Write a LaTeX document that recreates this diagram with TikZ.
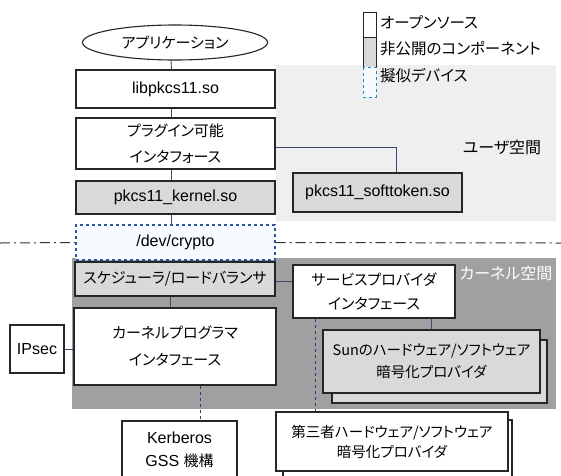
\documentclass[tikz,border=0pt]{standalone}
\usepackage{fontspec}
\usetikzlibrary{shapes.geometric}
\setmainfont{Liberation Sans}
\newfontfamily\jp[RawFeature=+palt]{Noto Sans CJK JP}
\definecolor{userbg}{HTML}{EFEFEF}
\definecolor{kernbg}{HTML}{A0A0A0}
\definecolor{boxgrey}{HTML}{D9D9D9}
\definecolor{conn}{HTML}{3A4A70}
\definecolor{dashblue}{HTML}{2A55A0}
\definecolor{pseudo}{HTML}{F7FAFF}
\begin{document}
\begin{tikzpicture}[x=1pt,y=-1pt,
  box/.style={draw=black!85, line width=1.1pt, fill=white, inner sep=0pt, align=center},
  greybox/.style={box, fill=boxgrey},
  pseudobox/.style={box, draw=dashblue, dashed, fill=pseudo},
  lat/.style={font=\fontsize{16}{18}\selectfont},
  jpt/.style={font=\jp\fontsize{15}{#1}\selectfont},
  jpt/.default=24,
  jps/.style={font=\jp\fontsize{14.5}{#1}\selectfont},
  wire/.style={draw=conn, line width=0.9pt},
  dwire/.style={draw=conn!80!blue, line width=0.9pt, dashed},
  lgd/.style={anchor=west, inner sep=0pt, font=\jp\fontsize{15.5}{17}\selectfont}
]
\useasboundingbox (0,0) rectangle (561,475);
\clip (0,0) rectangle (561,475);
\fill[white] (0,0) rectangle (561,475);

% regions
\fill[userbg] (276,65) rectangle (556,221);
\fill[kernbg] (72,258) rectangle (556,409);

% legend
\draw[black!85, line width=0.9pt, fill=white] (363,12) rectangle (376,37);
\draw[black!85, line width=0.9pt, fill=boxgrey] (363,37) rectangle (376,67);
\draw[dashblue!70!cyan, line width=0.9pt, dashed, fill=pseudo] (363,67) rectangle (376,97);
\node[lgd] (lg1) at (380,22) {オープンソース};
\node[lgd] (lg2) at (380,49) {非公開のコンポーネント};
\node[lgd] (lg3) at (380,76) {擬似デバイス};

\node[font=\jp\fontsize{16}{18}\selectfont] (usr) at (502,147) {ユーザ空間};
\node[font=\jp\fontsize{16}{18}\selectfont, text=white] (krn) at (506,273) {カーネル空間};

% user-space column
\node[draw=black!85, line width=1.1pt, fill=white, ellipse, minimum width=185pt, minimum height=35pt, inner sep=0pt, jpt] (app) at (175,42.5) {アプリケーション};
\node[box, lat, minimum width=199pt, minimum height=38pt] (lib) at (175.5,89) {libpkcs11.so};
\node[box, jpt=26, minimum width=199pt, minimum height=51pt] (plug) at (175.5,143.5) {プラグイン可能\\インタフォース};
\node[greybox, lat, minimum width=199pt, minimum height=33pt] (kso) at (175.5,197.5) {pkcs11\_kernel.so};
\node[greybox, lat, minimum width=169pt, minimum height=39pt] (soft) at (377.5,192.5) {pkcs11\_softtoken.so};
\node[pseudobox, lat, minimum width=199pt, minimum height=35pt] (dev) at (175.5,242.5) {/dev/crypto};

% dash-dot separator
\coordinate (sepL) at (0,243);
\coordinate (sepR) at (561,243);
\draw[black!80, line width=1pt, dash pattern=on 10pt off 4pt on 2pt off 4pt] (sepL) -- (dev.west);
\draw[black!80, line width=1pt, dash pattern=on 10pt off 4pt on 2pt off 4pt] (dev.east) -- (sepR);

% kernel side
\node[greybox, jpt, minimum width=200pt, minimum height=34pt] (sch) at (175,279) {スケジューラ/ロードバランサ};
\node[box, jpt=27, minimum width=202pt, minimum height=77pt] (kapi) at (175,346.5) {カーネルプログラマ\\インタフェース};
\node[box, lat, minimum width=54pt, minimum height=48pt] (ipsec) at (37,349) {IPsec};
\node[box, minimum width=115pt, minimum height=61pt] (kerb) at (179.5,451.5) {};
\node[inner sep=0pt, lat] (kerbt1) at (179.5,438) {Kerberos};
\node[inner sep=0pt, lat] (kerbt2) at (179.5,461) {GSS {\jp\fontsize{15}{17}\selectfont 機構}};
\node[box, jpt, minimum width=162pt, minimum height=53pt] (spi) at (374,291.5) {サービスプロバイダ\\インタフェース};
\node[greybox, minimum width=215pt, minimum height=63pt] (sunb) at (439.5,371.5) {};
\node[greybox, jps=22, minimum width=217pt, minimum height=63pt] (sunf) at (431.5,361.5) {Sunのハードウェア/ソフトウェア\\暗号化プロバイダ};
\node[box, minimum width=229pt, minimum height=60pt] (tpb) at (397.5,450) {};
\node[box, jps=20, minimum width=232pt, minimum height=59pt] (tpf) at (392,441.5) {第三者ハードウェア/ソフトウェア\\暗号化プロバイダ};

% connectors
\draw[wire] ([xshift=-4pt]app.south) -- ([xshift=-4pt]lib.north);
\draw[wire] ([xshift=-4pt]lib.south) -- ([xshift=-4pt]plug.north);
\draw[wire] ([xshift=-4pt]plug.south) -- ([xshift=-4pt]kso.north);
\draw[wire] ([xshift=-4pt]kso.south) -- ([xshift=-4pt]dev.north);
\draw[wire] ([yshift=-3.5pt]plug.east) -| ([xshift=18.5pt]soft.north);
\draw[wire] ([xshift=-5pt]sch.south) -- ([xshift=-5pt]kapi.north);
\draw[wire] ([yshift=-2pt]sch.east) -- ([yshift=-2pt]sch.east -| spi.west);
\draw[wire] (ipsec.east) -- (ipsec.east -| kapi.west);
\draw[dwire] ([xshift=25pt]kapi.south) -- ([xshift=20.5pt]kerb.north);
\draw[wire] (sunf.north |- spi.south) -- (sunf.north);
\draw[dwire] ([xshift=-59pt]spi.south) -- ([xshift=-59pt]spi.south |- tpf.north);
\end{tikzpicture}
\end{document}
